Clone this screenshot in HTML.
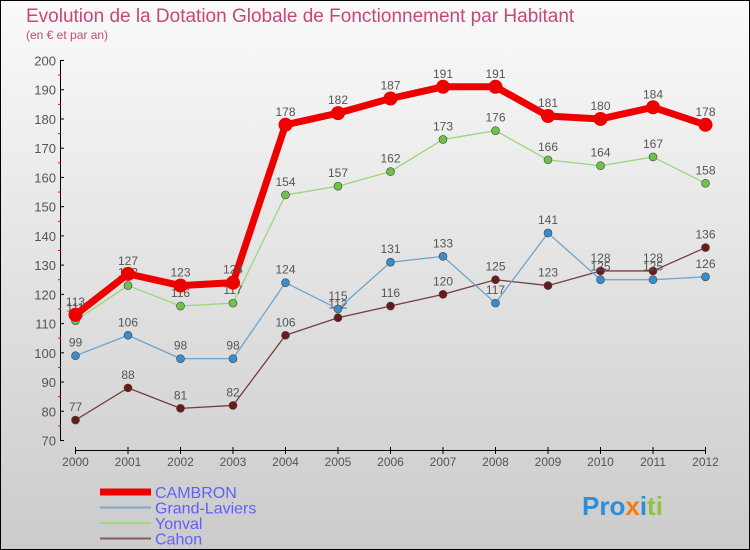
<!DOCTYPE html>
<html><head><meta charset="utf-8"><style>
body{margin:0}
svg{display:block;font-family:"Liberation Sans",sans-serif}
</style></head><body>
<svg width="750" height="550" viewBox="0 0 750 550">
<defs><linearGradient id="bg" x1="0" y1="0" x2="0" y2="1"><stop offset="0" stop-color="#fafafa"/><stop offset="1" stop-color="#cbcbcb"/></linearGradient></defs>
<rect x="0.5" y="0.5" width="749" height="549" fill="url(#bg)" stroke="#000"/>
<text x="26" y="22" font-size="19" fill="#c8467a">Evolution de la Dotation Globale de Fonctionnement par Habitant</text>
<text x="26" y="39" font-size="12" fill="#c8467a">(en € et par an)</text>
<g id="axes"></g>
<g id="series"></g>
<g id="legend"></g>
<text x="582" y="515" font-size="26" font-weight="bold"><tspan fill="#2e8fd8">Pro</tspan><tspan fill="#f07c1a">x</tspan><tspan fill="#2e8fd8">i</tspan><tspan fill="#8cc63f">ti</tspan></text>
</svg>
<script>
const years=[2000,2001,2002,2003,2004,2005,2006,2007,2008,2009,2010,2011,2012];
const yTicks=[70,80,90,100,110,120,130,140,150,160,170,180,190,200];
const cambron=[113,127,123,124,178,182,187,191,191,181,180,184,178];
const grandLaviers=[99,106,98,98,124,115,131,133,117,141,125,125,126];
const yonval=[111,123,116,117,154,157,162,173,176,166,164,167,158];
const cahon=[77,88,81,82,106,112,116,120,125,123,128,128,136];
const NS="http://www.w3.org/2000/svg";
const X=i=>75.5+i*52.5;
const Y=v=>60.5+(200-v)*(380/130);
function mk(tag,attrs,parent,txt){const e=document.createElementNS(NS,tag);for(const k in attrs)e.setAttribute(k,attrs[k]);if(txt!==undefined)e.textContent=txt;parent.appendChild(e);return e;}
const ax=document.getElementById('axes');
let l=mk('line',{x1:60.5,y1:60,x2:60.5,y2:441,stroke:'#000'},ax);


l=mk('line',{x1:75,y1:450.5,x2:706,y2:450.5,stroke:'#000'},ax);


yTicks.forEach((v,i)=>{
  mk('line',{x1:60,y1:Y(v),x2:64,y2:Y(v),stroke:'#000'},ax);
  if(i<yTicks.length-1)mk('line',{x1:58,y1:Y(v+5),x2:61,y2:Y(v+5),stroke:'#f00'},ax);
  const t=mk('text',{x:56,y:Y(v)+5,'font-size':13,fill:'#555','text-anchor':'end'},ax,v);
  
  
});
years.forEach((y,i)=>{
  mk('line',{x1:X(i),y1:447,x2:X(i),y2:454,stroke:'#000'},ax);
  const t=mk('text',{x:X(i),y:466,'font-size':12,fill:'#555','text-anchor':'middle'},ax,y);
  
  
});
const sg=document.getElementById('series');
const defs=[
 [cahon,'#7a3c3c','#6a1a1a',1.3,4,'cahon'],
 [grandLaviers,'#6fa4cc','#3a8ccc',1.3,4,'grand-laviers'],
 [yonval,'#9bd67a','#6cc24a',1.3,4,'yonval'],
 [cambron,'#ee0000','#ee0000',7,7,'cambron']];
defs.forEach(([d,c,mc,w,r,n])=>{
  const g=mk('g',{},sg);
  
  
  const p=mk('polyline',{points:d.map((v,i)=>X(i)+','+Y(v)).join(' '),fill:'none',stroke:c,'stroke-width':w,'stroke-linejoin':'round'},g);
  
  
  d.forEach((v,i)=>{
    const m=mk('circle',{cx:X(i),cy:Y(v),r:r,fill:mc,stroke:n==='cambron'?'none':'#444','stroke-width':0.6},g);
    
    
    const t=mk('text',{x:X(i),y:Y(v)-9,'font-size':12,fill:'#555','text-anchor':'middle'},g,v);
    
    
  });
});
const lg=document.getElementById('legend');
[['CAMBRON','#ee0000',7],['Grand-Laviers','#7aa8cc',2],['Yonval','#a0d882',2],['Cahon','#8a5a5a',2]].forEach(([n,c,w],i)=>{
  const y=492+i*15.5;
  const ln=mk('line',{x1:100,y1:y,x2:151,y2:y,stroke:c,'stroke-width':w},lg);
  
  
  const t=mk('text',{x:155,y:y+6,'font-size':16,fill:'#6060ff'},lg,n);
  
  
});
</script>
</body></html>
